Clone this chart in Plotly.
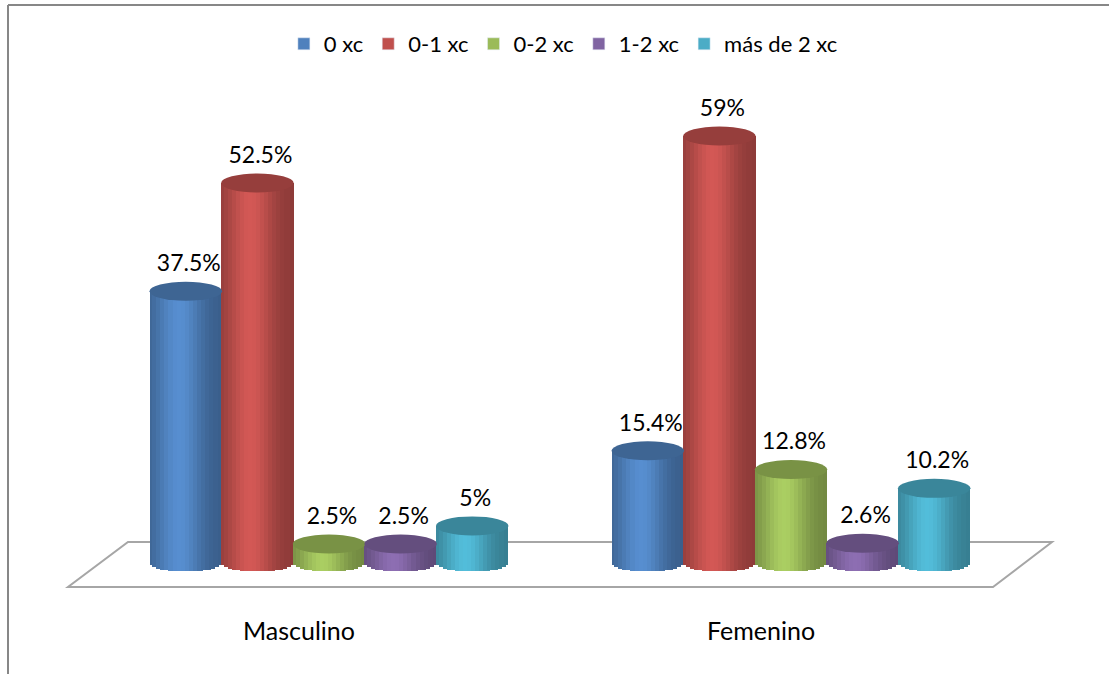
import math
import plotly.graph_objects as go

# ---------------- data ----------------
categories = ["Masculino", "Femenino"]
series_names = ["0 xc", "0-1 xc", "0-2 xc", "1-2 xc", "más de 2 xc"]
vals_0xc = [37.5, 15.4]
vals_01xc = [52.5, 59.0]
vals_02xc = [2.5, 12.8]
vals_12xc = [2.5, 2.6]
vals_mas2xc = [5.0, 10.2]
series_values = [vals_0xc, vals_01xc, vals_02xc, vals_12xc, vals_mas2xc]
series_colors = ["#4F81BD", "#C0504D", "#9BBB59", "#8064A2", "#4BACC6"]

# ---------------- geometry / style ----------------
W, H = 1109, 674
PX_PER_UNIT_Y = 7.22      # pixels per percentage point
BASE_PX = 562             # pixel row of value 0
GROUP_PX = 462            # pixels between category centers
FIRST_GROUP_PX = 329
pitch = 71.6 / GROUP_PX   # distance between cylinder centres (x units)
bar_w = 72.5 / GROUP_PX   # cylinder width (x units)
ell_h = 19 / PX_PER_UNIT_Y  # ellipse height (y units)
N_STRIPS = 18

x_range = [-FIRST_GROUP_PX / GROUP_PX, (W - FIRST_GROUP_PX) / GROUP_PX]
y_range = [-(H - BASE_PX) / PX_PER_UNIT_Y, BASE_PX / PX_PER_UNIT_Y]


def hex_to_rgb(h):
    h = h.lstrip("#")
    return [int(h[i:i + 2], 16) for i in (0, 2, 4)]


def scale(h, f):
    r, g, b = hex_to_rgb(h)
    return "rgb(%d,%d,%d)" % tuple(max(0, min(255, round(c * f))) for c in (r, g, b))


def shade(t):
    return 0.72 + 0.38 * math.exp(-((t - 0.42) / 0.32) ** 2)


fig = go.Figure()

# cylinder bodies, drawn as thin vertical strips for a shaded look
for s, (name, vals, col) in enumerate(zip(series_names, series_values, series_colors)):
    for k in range(N_STRIPS):
        t = (k + 0.5) / N_STRIPS
        u = 2 * t - 1
        xs, ys, bases = [], [], []
        for g, v in enumerate(vals):
            cx = g + (s - 2) * pitch
            xs.append(cx - bar_w / 2 + t * bar_w)
            b = -(ell_h / 2) * math.sqrt(max(0.0, 1 - u * u))
            bases.append(b)
            ys.append(v - b)
        wmult = 1.0 if k in (0, N_STRIPS - 1) else 1.6
        fig.add_trace(go.Bar(
            x=xs, y=ys, base=bases, width=bar_w / N_STRIPS * wmult,
            marker=dict(color=scale(col, shade(t)), line=dict(width=0)),
            showlegend=False, hoverinfo="skip",
        ))

# legend entries
for name, col in zip(series_names, series_colors):
    fig.add_trace(go.Bar(x=[None], y=[None], name=name, marker_color=col, showlegend=True))

# top ellipses
for s, (vals, col) in enumerate(zip(series_values, series_colors)):
    for g, v in enumerate(vals):
        cx = g + (s - 2) * pitch
        fig.add_shape(type="circle", xref="x", yref="y",
                      x0=cx - bar_w / 2, x1=cx + bar_w / 2,
                      y0=v - ell_h / 2, y1=v + ell_h / 2,
                      fillcolor=scale(col, 0.78), line=dict(width=0), layer="above")

# data labels
lx, ly, lt = [], [], []
for s, vals in enumerate(series_values):
    for g, v in enumerate(vals):
        lx.append(g + (s - 2) * pitch + 3 / GROUP_PX)
        ly.append(v + 26 / PX_PER_UNIT_Y)
        lt.append("%g%%" % v)
fig.add_trace(go.Scatter(x=lx, y=ly, text=lt, mode="text", textposition="middle center",
                         textfont=dict(size=23, color="#000000", family="Lato"),
                         showlegend=False, hoverinfo="skip", cliponaxis=False))

# floor (parallelogram)
def px_x(p):
    return (p - FIRST_GROUP_PX) / GROUP_PX


def px_y(p):
    return (BASE_PX - p) / PX_PER_UNIT_Y


floor = [(px_x(128), px_y(542)), (px_x(1052), px_y(542)), (px_x(993), px_y(587)), (px_x(68), px_y(587))]
path = "M " + " L ".join("%f,%f" % p for p in floor) + " Z"
fig.add_shape(type="path", path=path, xref="x", yref="y",
              line=dict(color="#A6A6A6", width=2), fillcolor="rgba(0,0,0,0)", layer="below")

# category labels
for g, cat in enumerate(categories):
    fig.add_annotation(x=g - 30 / GROUP_PX, y=px_y(630), text=cat, showarrow=False,
                       xref="x", yref="y", font=dict(size=25, color="#000000", family="Lato"))

# outer frame (left and top border lines)
fig.add_shape(type="line", xref="paper", yref="paper", x0=8 / W, x1=8 / W, y0=0, y1=1 - 5 / H,
              line=dict(color="#878787", width=2))
fig.add_shape(type="line", xref="paper", yref="paper", x0=8 / W, x1=1, y0=1 - 5 / H, y1=1 - 5 / H,
              line=dict(color="#878787", width=2))

fig.update_layout(
    width=W, height=H,
    margin=dict(l=0, r=0, t=0, b=0),
    paper_bgcolor="white", plot_bgcolor="white",
    barmode="overlay", bargap=0,
    font=dict(family="Lato", color="#000000"),
    xaxis=dict(range=x_range, visible=False, fixedrange=True),
    yaxis=dict(range=y_range, visible=False, fixedrange=True),
    legend=dict(orientation="h", x=0.508, xanchor="center", y=1 - 44 / H, yanchor="middle",
                font=dict(size=22, family="Lato", color="#000000"),
                bgcolor="rgba(0,0,0,0)", itemwidth=30, tracegroupgap=0),
    showlegend=True,
)

fig.write_html("out.html")
